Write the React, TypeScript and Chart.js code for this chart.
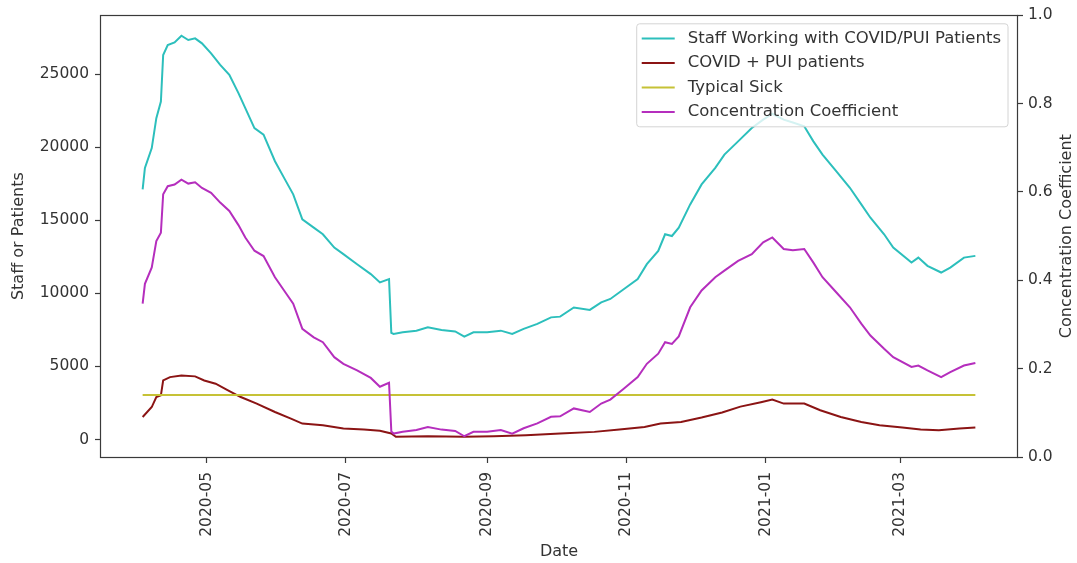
import React, { useEffect, useRef } from "react";
import { Chart, registerables } from "chart.js";

Chart.register(...registerables);

// ---- data ----
const staffDates = [
  "2020-04-03", "2020-04-04", "2020-04-07", "2020-04-09", "2020-04-11", "2020-04-12", "2020-04-14", "2020-04-17", "2020-04-20", "2020-04-23", "2020-04-26", "2020-04-29",
  "2020-05-03", "2020-05-07", "2020-05-11", "2020-05-15", "2020-05-18", "2020-05-22", "2020-05-26", "2020-05-31",
  "2020-06-04", "2020-06-08", "2020-06-12", "2020-06-17", "2020-06-21", "2020-06-26", "2020-06-30",
  "2020-07-06", "2020-07-12", "2020-07-16", "2020-07-20", "2020-07-21", "2020-07-22", "2020-07-26",
  "2020-08-01", "2020-08-06", "2020-08-12", "2020-08-18", "2020-08-22", "2020-08-26",
  "2020-09-01", "2020-09-07", "2020-09-12", "2020-09-17", "2020-09-23", "2020-09-29",
  "2020-10-03", "2020-10-09", "2020-10-16", "2020-10-21", "2020-10-25", "2020-10-31",
  "2020-11-06", "2020-11-10", "2020-11-15", "2020-11-18", "2020-11-21", "2020-11-24", "2020-11-29",
  "2020-12-04", "2020-12-10", "2020-12-14", "2020-12-20", "2020-12-26", "2020-12-31",
  "2021-01-04", "2021-01-09", "2021-01-13", "2021-01-18", "2021-01-22", "2021-01-26",
  "2021-02-01", "2021-02-07", "2021-02-12", "2021-02-16", "2021-02-22", "2021-02-26",
  "2021-03-06", "2021-03-09", "2021-03-13", "2021-03-19", "2021-03-23", "2021-03-29", "2021-04-03",
];

const staffWorking = [
  17120, 18590, 19950, 22000, 23140, 26320, 27000, 27180, 27640, 27350, 27460, 27120,
  26430, 25640, 24960, 23710, 22680, 21320, 20870, 19050,
  17910, 16780, 15070, 14500, 14050, 13140, 12690,
  12000, 11320, 10750, 10980, 7300, 7230, 7340,
  7450, 7680, 7500, 7400, 7045, 7340,
  7340, 7450, 7230, 7570, 7910, 8360,
  8410, 9040, 8870, 9390, 9620, 10300,
  10980, 12000, 12910, 14050, 13930, 14500, 16095,
  17460, 18590, 19505, 20410, 21320, 21900,
  22300, 21900, 21700, 21440, 20410, 19505,
  18370, 17230, 16095, 15180, 14050, 13140,
  12110, 12450, 11890, 11430, 11770, 12450, 12570,
];

const concentration = [
  0.347, 0.392, 0.429, 0.489, 0.508, 0.595, 0.613, 0.617, 0.628, 0.619, 0.622, 0.609,
  0.598, 0.576, 0.557, 0.525, 0.497, 0.467, 0.455, 0.407,
  0.377, 0.347, 0.29, 0.271, 0.26, 0.226, 0.211,
  0.196, 0.179, 0.159, 0.168, 0.058, 0.053, 0.057,
  0.061, 0.068, 0.062, 0.059, 0.047, 0.057,
  0.057, 0.061, 0.053, 0.065, 0.076, 0.091,
  0.092, 0.11, 0.102, 0.121, 0.13, 0.155,
  0.181, 0.211, 0.234, 0.26, 0.256, 0.273, 0.339,
  0.377, 0.407, 0.422, 0.444, 0.459, 0.486,
  0.497, 0.471, 0.468, 0.471, 0.44, 0.407,
  0.373, 0.339, 0.302, 0.275, 0.245, 0.226,
  0.204, 0.207, 0.196, 0.181, 0.192, 0.207, 0.213,
];

const patientDates = [
  "2020-04-03", "2020-04-07", "2020-04-09", "2020-04-11", "2020-04-12", "2020-04-15", "2020-04-20", "2020-04-26", "2020-04-30",
  "2020-05-05", "2020-05-10", "2020-05-16", "2020-05-23", "2020-05-31",
  "2020-06-07", "2020-06-12", "2020-06-21", "2020-06-30",
  "2020-07-09", "2020-07-16", "2020-07-21", "2020-07-23",
  "2020-08-06", "2020-08-22", "2020-09-04", "2020-09-18",
  "2020-10-03", "2020-10-18", "2020-10-29",
  "2020-11-09", "2020-11-16", "2020-11-25",
  "2020-12-04", "2020-12-13", "2020-12-21", "2020-12-30",
  "2021-01-04", "2021-01-09", "2021-01-18", "2021-01-25",
  "2021-02-03", "2021-02-12", "2021-02-20",
  "2021-03-02", "2021-03-10", "2021-03-18", "2021-03-27", "2021-04-03",
];

const covidPatients = [
  1540, 2220, 2900, 3020, 4040, 4270, 4385, 4320, 4040,
  3820, 3400, 2905, 2455, 1880,
  1430, 1090, 975, 750,
  680, 590, 410, 180,
  225, 180, 225, 290,
  410, 520, 680,
  860, 1090, 1200,
  1500, 1850, 2250, 2550,
  2730, 2455, 2455, 2000,
  1540, 1200, 975,
  820, 680, 630, 750, 820,
];

const typicalSick = 3050;

const xTickLabels = ["2020-05", "2020-07", "2020-09", "2020-11", "2021-01", "2021-03"];
const leftTicks = [0, 5000, 10000, 15000, 20000, 25000];
const rightTicks = [0, 0.2, 0.4, 0.6, 0.8, 1.0];

const seriesLabels = [
  "Staff Working with COVID/PUI Patients",
  "COVID + PUI patients",
  "Typical Sick",
  "Concentration Coefficient",
];
const seriesColors = ["#2cbfbc", "#8b1414", "#c6c236", "#b52ebd"];

const FONT = '"DejaVu Sans", sans-serif';
const TEXT = "#333333";
const AXIS = "#3a3a3a";

const dayNum = (s: string) => {
  const [y, m, d] = s.split("-").map(Number);
  return Date.UTC(y, m - 1, d || 1) / 86400000;
};

export default function App() {
  const ref = useRef<HTMLCanvasElement>(null);

  useEffect(() => {
    const canvas = ref.current;
    if (!canvas) return;

    const sx = staffDates.map(dayNum);
    const px = patientDates.map(dayNum);
    const first = Math.min(sx[0], px[0]);
    const last = Math.max(sx[sx.length - 1], px[px.length - 1]);
    const margin = (last - first) * 0.05;
    const xTickValues = xTickLabels.map(dayNum);

    const framePlugin = {
      id: "frame",
      afterDatasetsDraw(chart: any) {
        const { ctx, chartArea } = chart;
        ctx.save();
        ctx.strokeStyle = AXIS;
        ctx.lineWidth = 1.2;
        const l = Math.round(chartArea.left) - 0.5;
        const r = Math.round(chartArea.right) + 0.5;
        const t = Math.round(chartArea.top) + 0.5;
        const b = Math.round(chartArea.bottom) + 0.5;
        ctx.strokeRect(l, t, r - l, b - t);
        ctx.restore();
      },
    };

    const legendPlugin = {
      id: "boxLegend",
      afterDatasetsDraw(chart: any) {
        const { ctx, chartArea } = chart;
        const ds = chart.data.datasets;
        ctx.save();
        ctx.font = `16.5px ${FONT}`;
        const tw = Math.max(...ds.map((d: any) => ctx.measureText(d.label).width));
        const padL = 5, lineLen = 33, gap = 13, padR = 7, rowH = 24.5;
        const w = padL + lineLen + gap + tw + padR;
        const h = ds.length * rowH + 5;
        const x0 = chartArea.right - 9 - w;
        const y0 = chartArea.top + 8.5;
        ctx.beginPath();
        if ((ctx as any).roundRect) (ctx as any).roundRect(x0, y0, w, h, 3);
        else ctx.rect(x0, y0, w, h);
        ctx.fillStyle = "rgba(255,255,255,0.8)";
        ctx.fill();
        ctx.strokeStyle = "#d4d4d4";
        ctx.lineWidth = 1;
        ctx.stroke();
        ds.forEach((d: any, i: number) => {
          const cy = y0 + 14.7 + i * rowH;
          ctx.beginPath();
          ctx.strokeStyle = d.borderColor;
          ctx.lineWidth = 2;
          ctx.moveTo(x0 + padL, cy);
          ctx.lineTo(x0 + padL + lineLen, cy);
          ctx.stroke();
          ctx.fillStyle = TEXT;
          ctx.textAlign = "left";
          ctx.textBaseline = "middle";
          ctx.fillText(d.label, x0 + padL + lineLen + gap, cy);
        });
        ctx.restore();
      },
    };

    const rightTitlePlugin = {
      id: "rightTitle",
      afterDraw(chart: any) {
        const { ctx, chartArea } = chart;
        const sc = chart.scales.y1;
        ctx.save();
        ctx.translate(sc.right - 10, (chartArea.top + chartArea.bottom) / 2);
        ctx.rotate(-Math.PI / 2);
        ctx.font = `16px ${FONT}`;
        ctx.fillStyle = TEXT;
        ctx.textAlign = "center";
        ctx.textBaseline = "middle";
        ctx.fillText("Concentration Coefficient", 0, 0);
        ctx.restore();
      },
    };

    const tickFont = { family: FONT, size: 15.5 };
    const titleFont = { family: FONT, size: 16 };
    const gridCfg = { drawOnChartArea: false, drawTicks: true, tickLength: 6, tickColor: AXIS, tickWidth: 1.2 };

    const chart = new Chart(canvas, {
      type: "line",
      data: {
        datasets: [
          {
            label: seriesLabels[0],
            data: staffDates.map((d, i) => ({ x: dayNum(d), y: staffWorking[i] })),
            borderColor: seriesColors[0],
            yAxisID: "y",
            order: 4,
          },
          {
            label: seriesLabels[1],
            data: patientDates.map((d, i) => ({ x: dayNum(d), y: covidPatients[i] })),
            borderColor: seriesColors[1],
            yAxisID: "y",
            order: 3,
          },
          {
            label: seriesLabels[2],
            data: [
              { x: first, y: typicalSick },
              { x: last, y: typicalSick },
            ],
            borderColor: seriesColors[2],
            yAxisID: "y",
            order: 2,
          },
          {
            label: seriesLabels[3],
            data: staffDates.map((d, i) => ({ x: dayNum(d), y: concentration[i] })),
            borderColor: seriesColors[3],
            yAxisID: "y1",
            order: 1,
          },
        ],
      },
      options: {
        animation: false,
        responsive: true,
        maintainAspectRatio: false,
        layout: { padding: { top: 13.5, left: 0, right: 0, bottom: 0 } },
        elements: {
          point: { radius: 0, hoverRadius: 0 },
          line: { borderWidth: 2, tension: 0, fill: false },
        },
        plugins: { legend: { display: false }, tooltip: { enabled: false } },
        scales: {
          x: {
            type: "linear",
            min: first - margin,
            max: last + margin,
            afterFit: (s: any) => {
              s.height = 106;
            },
            afterBuildTicks: (s: any) => {
              s.ticks = xTickValues.map((v) => ({ value: v }));
            },
            ticks: {
              autoSkip: false,
              minRotation: 90,
              maxRotation: 90,
              padding: 9,
              color: TEXT,
              font: tickFont,
              callback: (v: any) => {
                const i = xTickValues.indexOf(Number(v));
                return i >= 0 ? xTickLabels[i] : "";
              },
            },
            grid: gridCfg,
            border: { display: false },
            title: { display: true, text: "Date", color: TEXT, font: titleFont, padding: { top: 0, bottom: 2 } },
          },
          y: {
            type: "linear",
            position: "left",
            min: -1200,
            max: 29040,
            afterFit: (s: any) => {
              s.width = 101;
            },
            afterBuildTicks: (s: any) => {
              s.ticks = leftTicks.map((v) => ({ value: v }));
            },
            ticks: {
              padding: 6,
              color: TEXT,
              font: tickFont,
              callback: (v: any) => String(v),
            },
            grid: gridCfg,
            border: { display: false },
            title: { display: true, text: "Staff or Patients", color: TEXT, font: titleFont, padding: { top: 9, bottom: 0 } },
          },
          y1: {
            type: "linear",
            position: "right",
            min: 0,
            max: 1,
            afterFit: (s: any) => {
              s.width = 60;
            },
            afterBuildTicks: (s: any) => {
              s.ticks = rightTicks.map((v) => ({ value: v }));
            },
            ticks: {
              padding: 5,
              color: TEXT,
              font: tickFont,
              callback: (v: any) => Number(v).toFixed(1),
            },
            grid: gridCfg,
            border: { display: false },
          },
        },
      },
      plugins: [framePlugin, legendPlugin, rightTitlePlugin],
    } as any);

    return () => chart.destroy();
  }, []);

  return (
    <div style={{ position: "fixed", left: 0, top: 0, width: 1077, height: 563, background: "#ffffff" }}>
      <canvas ref={ref} />
    </div>
  );
}
